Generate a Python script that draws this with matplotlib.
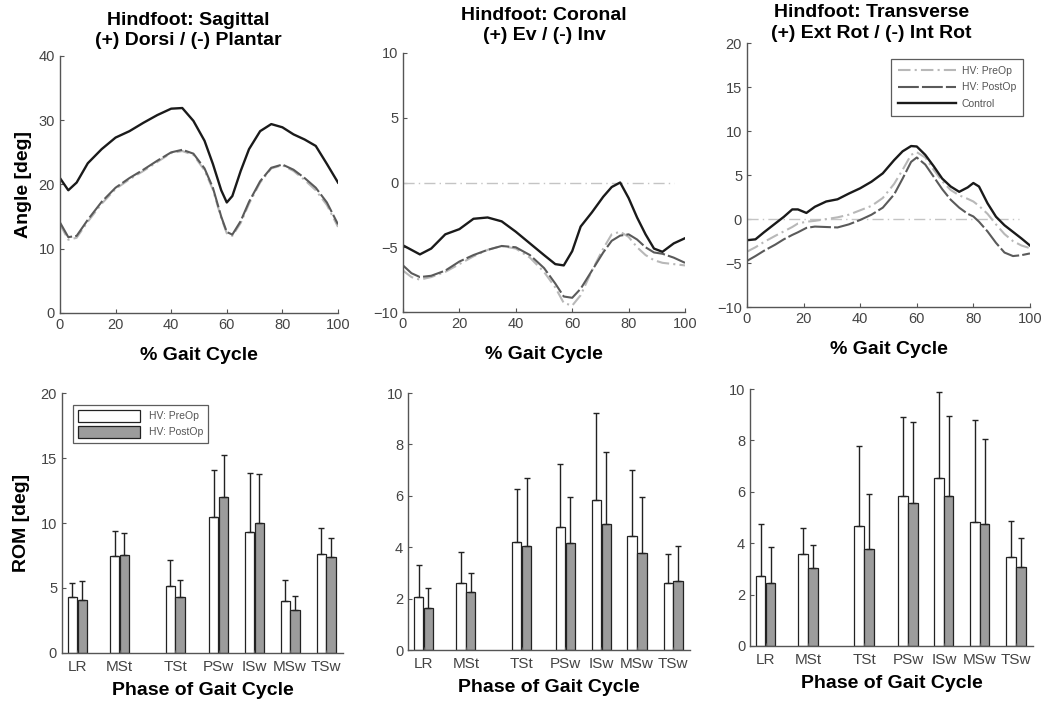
import numpy as np
import matplotlib
matplotlib.use("Agg")
import matplotlib.pyplot as plt

plt.rcParams['font.family'] = ['Liberation Sans', 'DejaVu Sans']

# ---- kinematic curves (% gait cycle) ----
sag_x = [0, 3, 6, 10, 15, 20, 25, 30, 35, 40, 44, 48, 52, 55, 58, 60, 62, 65, 68, 72, 76, 80, 84, 88, 92, 96, 100]
sag_ctrl = [21, 19.1, 20.3, 23.3, 25.5, 27.3, 28.3, 29.6, 30.8, 31.8, 31.9, 29.9, 26.8, 23.2, 19.1, 17.2, 18.2,
            22.1, 25.5, 28.3, 29.4, 28.9, 27.8, 27.0, 26.0, 23.2, 20.3]
sag_post = [14.1, 11.8, 12.0, 14.5, 17.3, 19.5, 21.0, 22.3, 23.7, 25.0, 25.4, 24.8, 22.5, 19.5, 15.0, 12.6, 12.2,
            14.3, 17.3, 20.5, 22.6, 23.1, 22.3, 21.0, 19.5, 17.2, 13.8]
sag_pre = [13.8, 11.4, 11.7, 14.2, 17.0, 19.3, 20.8, 22.1, 23.5, 24.9, 25.2, 24.6, 22.2, 19.2, 14.8, 12.4, 12.0,
           14.0, 17.0, 20.3, 22.5, 23.0, 22.1, 20.7, 19.1, 16.8, 13.4]

cor_x = [0, 3, 6, 10, 15, 20, 25, 30, 35, 40, 45, 50, 54, 57, 60, 63, 67, 71, 74, 77, 80, 83, 86, 89, 92, 96, 100]
cor_ctrl = [-4.85, -5.2, -5.55, -5.1, -4.0, -3.6, -2.8, -2.7, -3.0, -3.8, -4.7, -5.6, -6.3, -6.4, -5.3, -3.4, -2.3,
            -1.1, -0.35, 0.0, -1.2, -2.7, -4.0, -5.1, -5.35, -4.7, -4.3]
cor_post = [-6.4, -7.0, -7.3, -7.2, -6.8, -6.1, -5.6, -5.2, -4.9, -5.0, -5.6, -6.6, -7.8, -8.8, -8.9, -8.2, -6.8,
            -5.4, -4.5, -4.1, -4.0, -4.4, -5.0, -5.4, -5.5, -5.8, -6.2]
cor_pre = [-6.8, -7.3, -7.5, -7.3, -6.9, -6.3, -5.7, -5.2, -4.9, -5.1, -5.8, -6.9, -8.1, -9.3, -9.5, -8.7, -6.8,
           -5.1, -4.0, -3.8, -4.2, -5.0, -5.6, -6.0, -6.2, -6.3, -6.4]

tra_x = [0, 3, 6, 10, 13, 16, 18, 21, 24, 28, 32, 36, 40, 44, 48, 52, 55, 58, 60, 63, 66, 69, 72, 75, 78, 80, 82,
         85, 88, 91, 94, 97, 100]
tra_ctrl = [-2.4, -2.3, -1.5, -0.5, 0.25, 1.1, 1.1, 0.7, 1.4, 2.0, 2.25, 2.9, 3.5, 4.25, 5.2, 6.7, 7.7, 8.3, 8.25,
            7.3, 6.0, 4.6, 3.7, 3.1, 3.6, 4.1, 3.7, 1.8, 0.27, -0.7, -1.45, -2.2, -3.0]
tra_post = [-4.75, -4.2, -3.6, -2.9, -2.3, -1.8, -1.5, -1.0, -0.85, -0.9, -0.95, -0.6, -0.1, 0.5, 1.3, 2.8, 4.6,
            6.5, 7.0, 6.2, 4.8, 3.4, 2.2, 1.3, 0.6, 0.3, -0.3, -1.4, -2.7, -3.8, -4.2, -4.1, -3.9]
tra_pre = [-3.7, -3.2, -2.6, -1.9, -1.4, -0.9, -0.5, -0.3, -0.2, 0.0, 0.2, 0.5, 1.0, 1.5, 2.4, 4.0, 5.6, 7.3, 7.6,
           7.0, 5.6, 4.3, 3.3, 2.7, 2.3, 2.0, 1.5, 0.6, -0.6, -1.7, -2.5, -3.0, -3.3]

# ---- range of motion per phase ----
phases = ['LR', 'MSt', 'TSt', 'PSw', 'ISw', 'MSw', 'TSw']
phase_pos = [5.5, 20.5, 40.3, 55.8, 68.5, 81.2, 94]  # phase mid-points, % gait cycle

sag_rom_pre = [4.27, 7.45, 5.14, 10.5, 9.28, 4.0, 7.6]
sag_sd_pre = [1.08, 1.95, 2.0, 3.6, 4.6, 1.6, 2.0]
sag_rom_post = [4.06, 7.53, 4.27, 12.0, 10.0, 3.3, 7.4]
sag_sd_post = [1.5, 1.67, 1.33, 3.2, 3.8, 1.07, 1.47]

cor_rom_pre = [2.05, 2.62, 4.22, 4.8, 5.84, 4.44, 2.62]
cor_sd_pre = [1.25, 1.18, 2.04, 2.45, 3.38, 2.57, 1.12]
cor_rom_post = [1.62, 2.25, 4.05, 4.16, 4.9, 3.77, 2.69]
cor_sd_post = [0.78, 0.74, 2.64, 1.79, 2.79, 2.17, 1.34]

tra_rom_pre = [2.73, 3.58, 4.65, 5.84, 6.53, 4.84, 3.48]
tra_sd_pre = [2.02, 1.0, 3.12, 3.06, 3.37, 3.94, 1.4]
tra_rom_post = [2.47, 3.03, 3.77, 5.56, 5.82, 4.75, 3.09]
tra_sd_post = [1.4, 0.91, 2.15, 3.14, 3.12, 3.31, 1.13]

PRE_C = '#b8b8b8'
POST_C = '#5a5a5a'
CTRL_C = '#1a1a1a'
BAR_GRAY = '#9c9c9c'
TICK_C = '#444444'
LAB_FS = 14


def style_axes(ax):
    for s in ['top', 'right']:
        ax.spines[s].set_visible(False)
    for s in ['left', 'bottom']:
        ax.spines[s].set_color('#555555')
        ax.spines[s].set_linewidth(1.0)
    ax.tick_params(direction='in', length=3, width=0.8, colors='#555555',
                   labelcolor=TICK_C, labelsize=10.5)


fig = plt.figure(figsize=(10.5, 7.06), dpi=100)

# top row axes [left, bottom, width, height]
ax_s = fig.add_axes([0.0571, 0.5567, 0.2648, 0.364])
ax_c = fig.add_axes([0.3838, 0.558, 0.2686, 0.367])
ax_t = fig.add_axes([0.7114, 0.565, 0.2695, 0.374])
# bottom row
bx_s = fig.add_axes([0.059, 0.0751, 0.2676, 0.3682])
bx_c = fig.add_axes([0.3886, 0.0793, 0.2686, 0.364])
bx_t = fig.add_axes([0.7143, 0.085, 0.2695, 0.364])

curves = [
    (ax_s, sag_x, sag_pre, sag_post, sag_ctrl, (0, 40), [0, 10, 20, 30, 40],
     'Hindfoot: Sagittal\n(+) Dorsi / (-) Plantar', 0.46, 8),
    (ax_c, cor_x, cor_pre, cor_post, cor_ctrl, (-10, 10), [-10, -5, 0, 5, 10],
     'Hindfoot: Coronal\n(+) Ev / (-) Inv', 0.5, 9),
    (ax_t, tra_x, tra_pre, tra_post, tra_ctrl, (-10, 20), [-10, -5, 0, 5, 10, 15, 20],
     'Hindfoot: Transverse\n(+) Ext Rot / (-) Int Rot', 0.44, 4),
]

for ax, x, pre, post, ctrl, ylim, yt, title, tx, tpad in curves:
    if ylim[0] < 0:
        ax.plot([0, 96], [0, 0], color='#c4c4c4', lw=1.0, ls=(0, (8, 3, 1, 3)))
    ax.plot(x, pre, color=PRE_C, lw=1.5, ls=(0, (6, 2, 1, 2)), label='HV: PreOp')
    ax.plot(x, post, color=POST_C, lw=1.5, ls=(0, (10, 1.5)), label='HV: PostOp')
    ax.plot(x, ctrl, color=CTRL_C, lw=1.7, label='Control')
    ax.set_xlim(0, 100)
    ax.set_ylim(*ylim)
    ax.set_yticks(yt)
    ax.set_xticks([0, 20, 40, 60, 80, 100])
    style_axes(ax)
    ax.set_title(title, fontsize=LAB_FS, fontweight='bold', pad=tpad, linespacing=1.25, x=tx)
    ax.set_xlabel('% Gait Cycle', fontsize=LAB_FS, fontweight='bold', labelpad=11)

ax_s.set_ylabel('Angle [deg]', fontsize=LAB_FS, fontweight='bold', labelpad=5)

leg = ax_t.legend(loc='upper right', bbox_to_anchor=(0.995, 0.96), fontsize=7.5,
                  frameon=True, fancybox=False, edgecolor='#333333',
                  handlelength=5.5, labelspacing=0.6, borderpad=0.7, handletextpad=0.6)
leg.get_frame().set_linewidth(0.9)
for t in leg.get_texts():
    t.set_color('#555555')

bars = [
    (bx_s, sag_rom_pre, sag_sd_pre, sag_rom_post, sag_sd_post, 20, [0, 5, 10, 15, 20]),
    (bx_c, cor_rom_pre, cor_sd_pre, cor_rom_post, cor_sd_post, 10, [0, 2, 4, 6, 8, 10]),
    (bx_t, tra_rom_pre, tra_sd_pre, tra_rom_post, tra_sd_post, 10, [0, 2, 4, 6, 8, 10]),
]

pos = np.array(phase_pos)
w = 3.3
for ax, mpre, spre, mpost, spost, ymax, yt in bars:
    zeros = np.zeros(len(mpre))
    ax.bar(pos - 1.75, mpre, width=w, color='white', edgecolor='#222222', lw=0.9,
           yerr=[zeros, spre], capsize=2, error_kw=dict(ecolor='#222222', elinewidth=1.0, capthick=1.0),
           label='HV: PreOp')
    ax.bar(pos + 1.75, mpost, width=w, color=BAR_GRAY, edgecolor='#222222', lw=0.9,
           yerr=[zeros, spost], capsize=2, error_kw=dict(ecolor='#222222', elinewidth=1.0, capthick=1.0),
           label='HV: PostOp')
    ax.set_xlim(0, 100)
    ax.set_ylim(0, ymax)
    ax.set_yticks(yt)
    ax.set_xticks(pos)
    ax.set_xticklabels(phases)
    style_axes(ax)
    ax.tick_params(axis='x', length=2, pad=5, labelsize=11)
    ax.set_xlabel('Phase of Gait Cycle', fontsize=LAB_FS, fontweight='bold', labelpad=6)

bx_s.set_ylabel('ROM [deg]', fontsize=LAB_FS, fontweight='bold', labelpad=8)
bleg = bx_s.legend(loc='upper left', bbox_to_anchor=(0.02, 0.975), fontsize=7.5,
                   frameon=True, fancybox=False, edgecolor='#333333',
                   handlelength=6, handleheight=1.4, labelspacing=0.35, borderpad=0.5)
bleg.get_frame().set_linewidth(0.9)
for t in bleg.get_texts():
    t.set_color('#555555')

fig.savefig('out.png', dpi=100, facecolor='white')
